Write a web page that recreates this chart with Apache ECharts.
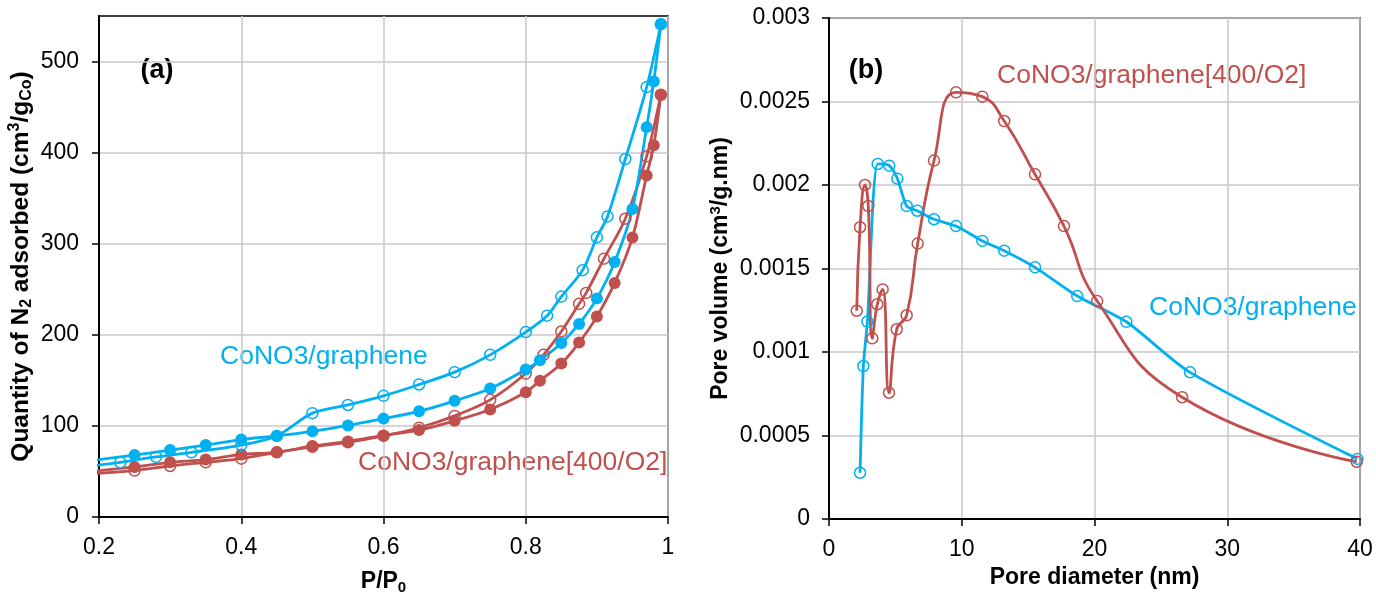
<!DOCTYPE html>
<html><head><meta charset="utf-8">
<script src="https://cdn.jsdelivr.net/npm/echarts@6/dist/echarts.min.js"></script>
<style>html,body{margin:0;padding:0;background:#fff}#c{width:1376px;height:595px}</style>
</head><body><div id="c"></div>
<script>
const FONT = '"Liberation Sans", Arial, sans-serif';
const BLUE = '#00B0F0';
const RED = '#C0504D';

// ---- (a) N2 isotherms ----
const pBlueOpen = [0.19, 0.23, 0.28, 0.33, 0.40, 0.45, 0.50, 0.55, 0.60, 0.65, 0.70, 0.75, 0.80, 0.83, 0.85, 0.88, 0.90, 0.915, 0.94, 0.97, 0.99];
const qBlueOpen = [56, 60, 66, 71, 79, 89, 114, 123, 133, 145.5, 159, 178, 203, 221, 242, 271, 307, 330, 393, 472, 541];
const pBlueFill = [0.19, 0.25, 0.30, 0.35, 0.40, 0.45, 0.50, 0.55, 0.60, 0.65, 0.70, 0.75, 0.80, 0.82, 0.85, 0.875, 0.90, 0.925, 0.95, 0.97, 0.98, 0.99];
const qBlueFill = [62, 68, 73.5, 79, 85, 89, 94, 100.5, 108, 116, 127.5, 141, 162, 172, 191, 212, 240, 280, 338, 428, 478, 541];
const pRedFill = [0.19, 0.25, 0.30, 0.35, 0.40, 0.45, 0.50, 0.55, 0.60, 0.65, 0.70, 0.75, 0.80, 0.82, 0.85, 0.875, 0.90, 0.925, 0.95, 0.97, 0.98, 0.99];
const qRedFill = [50, 55, 60, 63, 68.7, 71, 78, 83, 89.5, 95.4, 105.6, 118, 137, 149.5, 168.5, 191.5, 220, 257, 306.7, 375, 408, 463.5];
const pRedOpen = [0.19, 0.25, 0.30, 0.35, 0.40, 0.45, 0.50, 0.55, 0.60, 0.65, 0.70, 0.75, 0.80, 0.825, 0.85, 0.875, 0.885, 0.91, 0.94, 0.97, 0.99];
const qRedOpen = [47.5, 51, 56, 60, 64, 71, 77, 82, 89, 98, 111, 128.6, 157.5, 178, 203.6, 234, 246, 283.6, 327.5, 396, 463.5];
const yTicksA = [0, 100, 200, 300, 400, 500];

// ---- (b) pore size distribution ----
const dRed = [2.09, 2.34, 2.71, 2.96, 3.26, 3.64, 4.04, 4.52, 5.10, 5.85, 6.68, 7.91, 9.57, 11.55, 13.2, 15.52, 17.7, 20.2, 26.6, 39.75];
const vRed = [0.001247, 0.001747, 0.002, 0.001874, 0.001082, 0.001286, 0.001375, 0.000756, 0.001136, 0.00122, 0.001649, 0.002146, 0.002555, 0.002529, 0.002383, 0.002064, 0.001754, 0.001305, 0.000729, 0.000343];
const dBlue = [2.34, 2.59, 2.89, 3.67, 4.54, 5.15, 5.85, 6.65, 7.91, 9.57, 11.55, 13.2, 15.52, 18.7, 22.4, 27.2, 39.8];
const vBlue = [0.000277, 0.000916, 0.001182, 0.002126, 0.002116, 0.002038, 0.001874, 0.001846, 0.001795, 0.001754, 0.001665, 0.001607, 0.001507, 0.001335, 0.001181, 0.000878, 0.00036];

const zip = (a, b) => a.map((v, i) => [v, b[i]]);

const chart = echarts.init(document.getElementById('c'), null, {renderer: 'canvas'});

const tickFont = {fontFamily: FONT, fontSize: 23, color: '#000'};
const nameFont = {fontFamily: FONT, fontSize: 23, fontWeight: 'bold', color: '#000'};
const gridLine = {show: true, lineStyle: {color: '#c9c9c9', width: 1.5}};
const axisLine = {show: true, onZero: false, lineStyle: {color: '#000', width: 2}};
const axisTick = {show: true, inside: false, length: 7, lineStyle: {color: '#000', width: 1.5}};

function openSeries(data, color, xi, yi) {
  return {type: 'line', xAxisIndex: xi, yAxisIndex: yi, data, smooth: 0.3, clip: true,
    symbol: 'circle', symbolSize: 11, showAllSymbol: true,
    lineStyle: {color, width: 2.8},
    itemStyle: {color: 'rgba(255,255,255,0)', borderColor: color, borderWidth: 1.5}};
}
function fillSeries(data, color, xi, yi) {
  return {type: 'line', xAxisIndex: xi, yAxisIndex: yi, data, smooth: 0.3, clip: true,
    symbol: 'circle', symbolSize: 12, showAllSymbol: true,
    lineStyle: {color, width: 2.8},
    itemStyle: {color, borderColor: color, borderWidth: 0}};
}

const option = {
  animation: false,
  backgroundColor: '#fff',
  grid: [
    {left: 99, right: 708, top: 16, bottom: 78, containLabel: false, outerBoundsMode: 'none', show: true, borderColor: '#000', borderWidth: 1.5, backgroundColor: 'rgba(0,0,0,0)'},
    {left: 829, right: 16, top: 18, bottom: 76, containLabel: false, outerBoundsMode: 'none', show: true, borderColor: '#000', borderWidth: 1.5, backgroundColor: 'rgba(0,0,0,0)'}
  ],
  xAxis: [
    {type: 'value', gridIndex: 0, min: 0.2, max: 1, interval: 0.2,
     axisLine, axisTick, splitLine: gridLine,
     axisLabel: Object.assign({margin: 19, formatter: v => String(Math.round(v * 10) / 10)}, tickFont),
     name: 'P/P{sub|0}', nameLocation: 'middle', nameGap: 51,
     nameTextStyle: Object.assign({rich: {sub: {fontFamily: FONT, fontSize: 15, fontWeight: 'bold', verticalAlign: 'bottom', padding: [12, 0, 0, 0]}}}, nameFont)},
    {type: 'value', gridIndex: 1, min: 0, max: 40, interval: 10,
     axisLine, axisTick, splitLine: gridLine,
     axisLabel: Object.assign({margin: 19}, tickFont),
     name: 'Pore diameter (nm)', nameLocation: 'middle', nameGap: 46, nameTextStyle: nameFont}
  ],
  yAxis: [
    {type: 'value', gridIndex: 0, min: 0, max: 550, interval: 100,
     axisLine, axisTick: Object.assign({customValues: yTicksA}, axisTick), splitLine: gridLine,
     axisLabel: Object.assign({margin: 20, customValues: yTicksA}, tickFont),
     name: 'Quantity of N{sub|2} adsorbed (cm{sup|3}/g{sub|Co})', nameLocation: 'middle', nameGap: 64,
     nameTextStyle: Object.assign({}, nameFont, {fontSize: 24.5, rich: {
       sub: {fontFamily: FONT, fontSize: 16, fontWeight: 'bold', verticalAlign: 'bottom', padding: [12, 0, 0, 0]},
       sup: {fontFamily: FONT, fontSize: 16, fontWeight: 'bold', verticalAlign: 'top', padding: [0, 0, 10, 0]}
     }})},
    {type: 'value', gridIndex: 1, min: 0, max: 0.003, interval: 0.0005,
     axisLine, axisTick, splitLine: gridLine,
     axisLabel: Object.assign({margin: 19, formatter: v => String(Math.round(v * 1e4) / 1e4)}, tickFont),
     name: 'Pore volume (cm{sup|3}/g.nm)', nameLocation: 'middle', nameGap: 96,
     nameTextStyle: Object.assign({rich: {
       sup: {fontFamily: FONT, fontSize: 15, fontWeight: 'bold', verticalAlign: 'top', padding: [0, 0, 10, 0]}
     }}, nameFont)}
  ],
  series: [
    openSeries(zip(pRedOpen, qRedOpen), RED, 0, 0),
    fillSeries(zip(pRedFill, qRedFill), RED, 0, 0),
    openSeries(zip(pBlueOpen, qBlueOpen), BLUE, 0, 0),
    fillSeries(zip(pBlueFill, qBlueFill), BLUE, 0, 0),
    Object.assign(openSeries(zip(dBlue, vBlue), BLUE, 1, 1), {smooth: 0.25}),
    Object.assign(openSeries(zip(dRed, vRed), RED, 1, 1), {smooth: 0.5})
  ],
  graphic: [
    {type: 'text', x: 157, y: 71, style: {text: '(a)', fill: '#000', font: 'bold 27px ' + FONT, align: 'center', verticalAlign: 'middle'}},
    {type: 'text', x: 866, y: 71, style: {text: '(b)', fill: '#000', font: 'bold 27px ' + FONT, align: 'center', verticalAlign: 'middle'}},
    {type: 'text', x: 220, y: 357, style: {text: 'CoNO3/graphene', fill: BLUE, font: '26.5px ' + FONT, align: 'left', verticalAlign: 'middle'}},
    {type: 'text', x: 358, y: 463, style: {text: 'CoNO3/graphene[400/O2]', fill: RED, font: '26.5px ' + FONT, align: 'left', verticalAlign: 'middle'}},
    {type: 'text', x: 997, y: 76, style: {text: 'CoNO3/graphene[400/O2]', fill: RED, font: '26.5px ' + FONT, align: 'left', verticalAlign: 'middle'}},
    {type: 'text', x: 1149, y: 308, style: {text: 'CoNO3/graphene', fill: BLUE, font: '26.5px ' + FONT, align: 'left', verticalAlign: 'middle'}}
  ]
};
chart.setOption(option);
</script>
</body></html>
